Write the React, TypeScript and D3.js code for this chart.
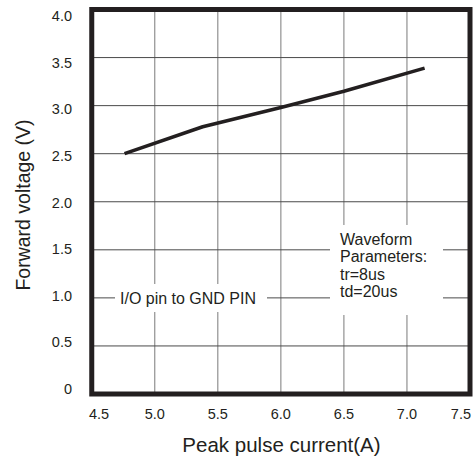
import React from "react";
import * as d3 from "d3";

const xTicks = [4.5, 5.0, 5.5, 6.0, 6.5, 7.0, 7.5];
const xTickLabels = ["4.5", "5.0", "5.5", "6.0", "6.5", "7.0", "7.5"];
const yTicks = [0, 0.5, 1.0, 1.5, 2.0, 2.5, 3.0, 3.5, 4.0];
const yTickLabels = ["0", "0.5", "1.0", "1.5", "2.0", "2.5", "3.0", "3.5", "4.0"];
const currentA = [4.76, 5.38, 6.0, 6.5, 7.14];
const voltageV = [2.5, 2.78, 2.98, 3.15, 3.39];
const waveformLines = ["Waveform", "Parameters:", "tr=8us", "td=20us"];
const pinLabel = "I/O pin to GND PIN";

const W = 473;
const H = 460;
const INK = "#231f20";
const FONT = "'Liberation Sans', Arial, Helvetica, sans-serif";

export default function App() {
  const x = d3.scaleLinear().domain([4.5, 7.5]).range([91.75, 470]);
  const y = d3.scaleLinear().domain([0, 4]).range([394, 9.5]);
  const yLab = d3.scaleLinear().domain([0, 4]).range([389, 16]);

  const line = d3
    .line<number>()
    .x((_, i) => x(currentA[i]))
    .y((d) => y(d))
    .curve(d3.curveLinear);

  const [x0, x1] = x.range();
  const [y0, y1] = y.range();

  return (
    <svg
      width={W}
      height={H}
      style={{ position: "absolute", left: 0, top: 0, background: "#fff" }}
      fontFamily={FONT}
    >
      <rect x={0} y={0} width={W} height={H} fill="#fff" />
      {/* grid */}
      {xTicks.slice(1, -1).map((t) => (
        <line key={"gx" + t} x1={x(t)} x2={x(t)} y1={y1} y2={y0} stroke="#7a7a7a" strokeWidth={1} />
      ))}
      {yTicks.slice(1, -1).map((t) => (
        <line key={"gy" + t} x1={x0} x2={x1} y1={y(t)} y2={y(t)} stroke="#4a4a4a" strokeWidth={1} />
      ))}
      {/* annotation backgrounds */}
      <rect x={115} y={284} width={152} height={28} fill="#fff" />
      <rect x={330} y={225} width={113} height={90} fill="#fff" />
      {/* data line */}
      <path d={line(voltageV) || ""} fill="none" stroke={INK} strokeWidth={3.5} strokeLinejoin="round" />
      {/* frame */}
      <rect x={x0} y={y1} width={x1 - x0} height={y0 - y1} fill="none" stroke={INK} strokeWidth={5} />
      {/* annotations */}
      <text x={120} y={304} fontSize={16} fill={INK}>{pinLabel}</text>
      {waveformLines.map((s, i) => (
        <text key={s} x={340} y={245 + i * 17.4} fontSize={16} fill={INK}>{s}</text>
      ))}
      {/* y tick labels */}
      {yTicks.map((t, i) => (
        <text key={"yl" + t} x={72} y={yLab(t)} dy="0.35em" textAnchor="end" fontSize={14.5} fill={INK}>
          {yTickLabels[i]}
        </text>
      ))}
      {/* x tick labels */}
      {xTicks.map((t, i) => (
        <text
          key={"xl" + t}
          x={i === 0 ? 89 : i === xTicks.length - 1 ? 471 : x(t)}
          y={419}
          textAnchor={i === 0 ? "start" : i === xTicks.length - 1 ? "end" : "middle"}
          fontSize={14.5}
          fill={INK}
        >
          {xTickLabels[i]}
        </text>
      ))}
      {/* axis titles */}
      <text x={281.5} y={452} textAnchor="middle" fontSize={20.5} fill={INK}>
        Peak pulse current(A)
      </text>
      <text
        transform={`translate(30,205) rotate(-90)`}
        textAnchor="middle"
        fontSize={19.5}
        fill={INK}
      >
        Forward voltage (V)
      </text>
    </svg>
  );
}
